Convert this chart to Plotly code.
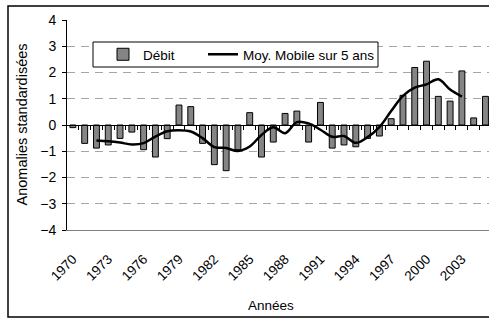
import plotly.graph_objects as go

# Annual standardized discharge anomalies
years = list(range(1970, 2006))
debit = [
    -0.10, -0.70, -0.88, -0.76, -0.51, -0.27, -0.94, -1.22, -0.52, 0.76,
    0.70, -0.70, -1.51, -1.74, -0.94, 0.47, -1.22, -0.65, 0.44, 0.53,
    -0.65, 0.86, -0.88, -0.76, -0.83, -0.51, -0.42, 0.24, 1.13, 2.19,
    2.43, 1.09, 0.91, 2.06, 0.27, 1.09,
]

# Centered 5-year moving average
ma_years = list(range(1972, 2004))
ma_values = [
    -0.59, -0.62, -0.67, -0.74, -0.69, -0.44, -0.24, -0.20, -0.25, -0.50,
    -0.84, -0.88, -0.99, -0.82, -0.38, -0.09, -0.31, 0.11, 0.06, -0.18,
    -0.45, -0.42, -0.68, -0.46, -0.08, 0.53, 1.11, 1.42, 1.55, 1.74,
    1.35, 1.08,
]

tick_years = list(range(1970, 2006, 3))
tick_labels = [str(y) for y in tick_years]

FONT = "Liberation Sans, Arial, sans-serif"
W, H = 489, 320
L, R, T, B = 67, 0, 20, 90
pw, ph = W - L - R, H - T - B


def px_x(x):
    return (x - L) / pw


def px_y(y):
    return (H - B - y) / ph


fig = go.Figure()
fig.add_trace(go.Bar(
    x=years, y=debit, name="Débit", width=0.5, legend="legend",
    marker=dict(color="#858585", line=dict(color="#000000", width=1)),
))
fig.add_trace(go.Scatter(
    x=ma_years, y=ma_values, name="Moy. Mobile sur 5 ans", mode="lines",
    legend="legend2",
    line=dict(color="#000000", width=2.5, shape="spline", smoothing=1),
))
# invisible trace carrying the zero-line category ticks
fig.add_trace(go.Scatter(x=[years[0]], y=[0], xaxis="x2", mode="markers",
                         marker=dict(opacity=0), showlegend=False, hoverinfo="skip"))

leg_common = dict(
    orientation="h", xanchor="left", yanchor="middle",
    bgcolor="rgba(0,0,0,0)", borderwidth=0,
    font=dict(family=FONT, size=13.5), itemwidth=30,
)

xr = [1969.5, 2005.3]
fig.update_layout(
    width=W, height=H,
    margin=dict(l=L, r=R, t=T, b=B),
    paper_bgcolor="white", plot_bgcolor="white",
    font=dict(family=FONT, size=13.5, color="#000000"),
    showlegend=True,
    legend=dict(x=px_x(103), y=px_y(54.5), **leg_common),
    legend2=dict(x=px_x(203), y=px_y(54.5), **leg_common),
    xaxis=dict(
        range=xr, tickmode="array", tickvals=tick_years, ticktext=tick_labels,
        tickangle=-45, ticks="", showgrid=False, zeroline=False,
        showline=True, linecolor="#808080", linewidth=1,
        tickfont=dict(family=FONT, size=13.5), ticklabelstandoff=15,
    ),
    xaxis2=dict(
        range=xr, overlaying="x", anchor="free", position=0.5, side="bottom",
        tickmode="array", tickvals=[y + 0.5 for y in years[:-1]],
        ticks="outside", ticklen=4, tickcolor="#000000", tickwidth=1,
        showticklabels=False, showgrid=False, zeroline=False,
        showline=True, linecolor="#000000", linewidth=1,
    ),
    yaxis=dict(
        range=[-4, 4], dtick=1, tick0=0,
        ticks="outside", ticklen=4, tickcolor="#000000",
        showline=True, linecolor="#000000", linewidth=1,
        showgrid=True, gridcolor="#a6a6a6", gridwidth=1, griddash="8px,6px",
        zeroline=False, tickfont=dict(family=FONT, size=14),
        ticklabelstandoff=3,
    ),
    shapes=[
        # chart frame
        dict(type="rect", xref="paper", yref="paper",
             x0=px_x(8), x1=1.05, y0=px_y(317), y1=px_y(6),
             line=dict(color="#000000", width=1.5), fillcolor="rgba(0,0,0,0)",
             layer="above"),
        # legend frame
        dict(type="rect", xref="paper", yref="paper",
             x0=px_x(93), x1=px_x(378), y0=px_y(67), y1=px_y(42),
             line=dict(color="#000000", width=1), fillcolor="white",
             layer="above"),
    ],
    annotations=[
        dict(text="Anomalies standardisées", xref="paper", yref="paper",
             x=px_x(21.5), y=0.5, textangle=-90, showarrow=False,
             xanchor="center", yanchor="middle",
             font=dict(family=FONT, size=14.5)),
        dict(text="Années", xref="paper", yref="paper",
             x=px_x(271), y=px_y(305), showarrow=False,
             xanchor="center", yanchor="middle",
             font=dict(family=FONT, size=13.5)),
    ],
)

fig.write_html("out.html")
